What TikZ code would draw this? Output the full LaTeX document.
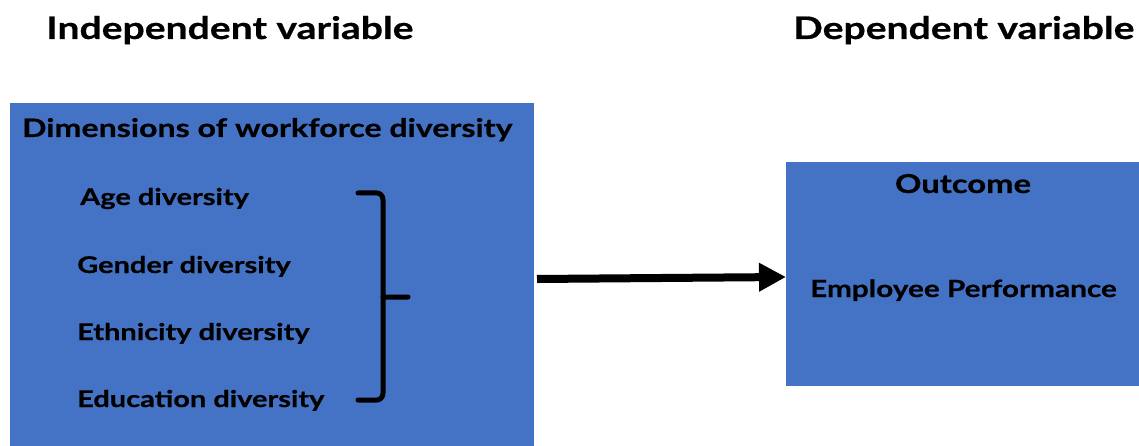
\documentclass[tikz,border=0pt]{standalone}
\usepackage{fontspec}
\setmainfont{Lato}[FakeStretch=1.26, BoldFeatures={FakeBold=0.6}]
\usetikzlibrary{arrows.meta}
\definecolor{boxblue}{HTML}{4472C4}
\tikzset{
  box/.style={fill=boxblue, draw=none, anchor=north west, inner sep=0pt},
  head/.style={anchor=base west, inner sep=0pt, font=\bfseries\fontsize{31}{36}\selectfont},
  title/.style={anchor=base west, inner sep=0pt, font=\bfseries\fontsize{25.5}{30}\selectfont},
  item/.style={anchor=base west, inner sep=0pt, font=\bfseries\fontsize{23}{28}\selectfont},
  brace/.style={line width=5pt, line cap=round, line join=round},
  bigarrow/.style={line width=8pt, -{Triangle[length=27pt,width=27pt]}}
}
\begin{document}
\begin{tikzpicture}[x=1pt,y=-1pt]
\useasboundingbox (0,0) rectangle (1139,446);
% boxes
\node[box, minimum width=524pt, minimum height=343pt] (left) at (10,103) {};
\node[box, minimum width=353pt, minimum height=224pt] (right) at (786,162) {};
% headers
\node[head] (ind) at (46,39) {Independent variable};
\node[head] (dep) at (793,39) {Dependent variable};
% left box texts
\node[title] (dim) at (22,137) {Dimensions of workforce diversity};
\node[item] (age) at (80,205) {Age diversity};
\node[item] (gen) at (77,273) {Gender diversity};
\node[item] (eth) at (77,340) {Ethnicity diversity};
\node[item] (edu) at (77,407) {Education diversity};
% right box texts
\node[title, anchor=base, font=\bfseries\fontsize{26}{30}\selectfont] (out) at (963,193) {Outcome};
\node[title, font=\bfseries\fontsize{23.6}{28}\selectfont] (emp) at (810,297) {Employee Performance};
% brace
\coordinate (bt) at (358,193);
\coordinate (bb) at (358,400);
\coordinate (bm) at (408,297);
\draw[brace] (bt) -- (377,193) to[out=0,in=90] (383,200) -- (383,297) -- (bm);
\draw[brace] (383,297) -- (383,393) to[out=-90,in=0] (377,400) -- (bb);
% arrow
\coordinate (as) at (537,279);
\draw[bigarrow] (as) -- (right.west |- 0,277);
\end{tikzpicture}
\end{document}
